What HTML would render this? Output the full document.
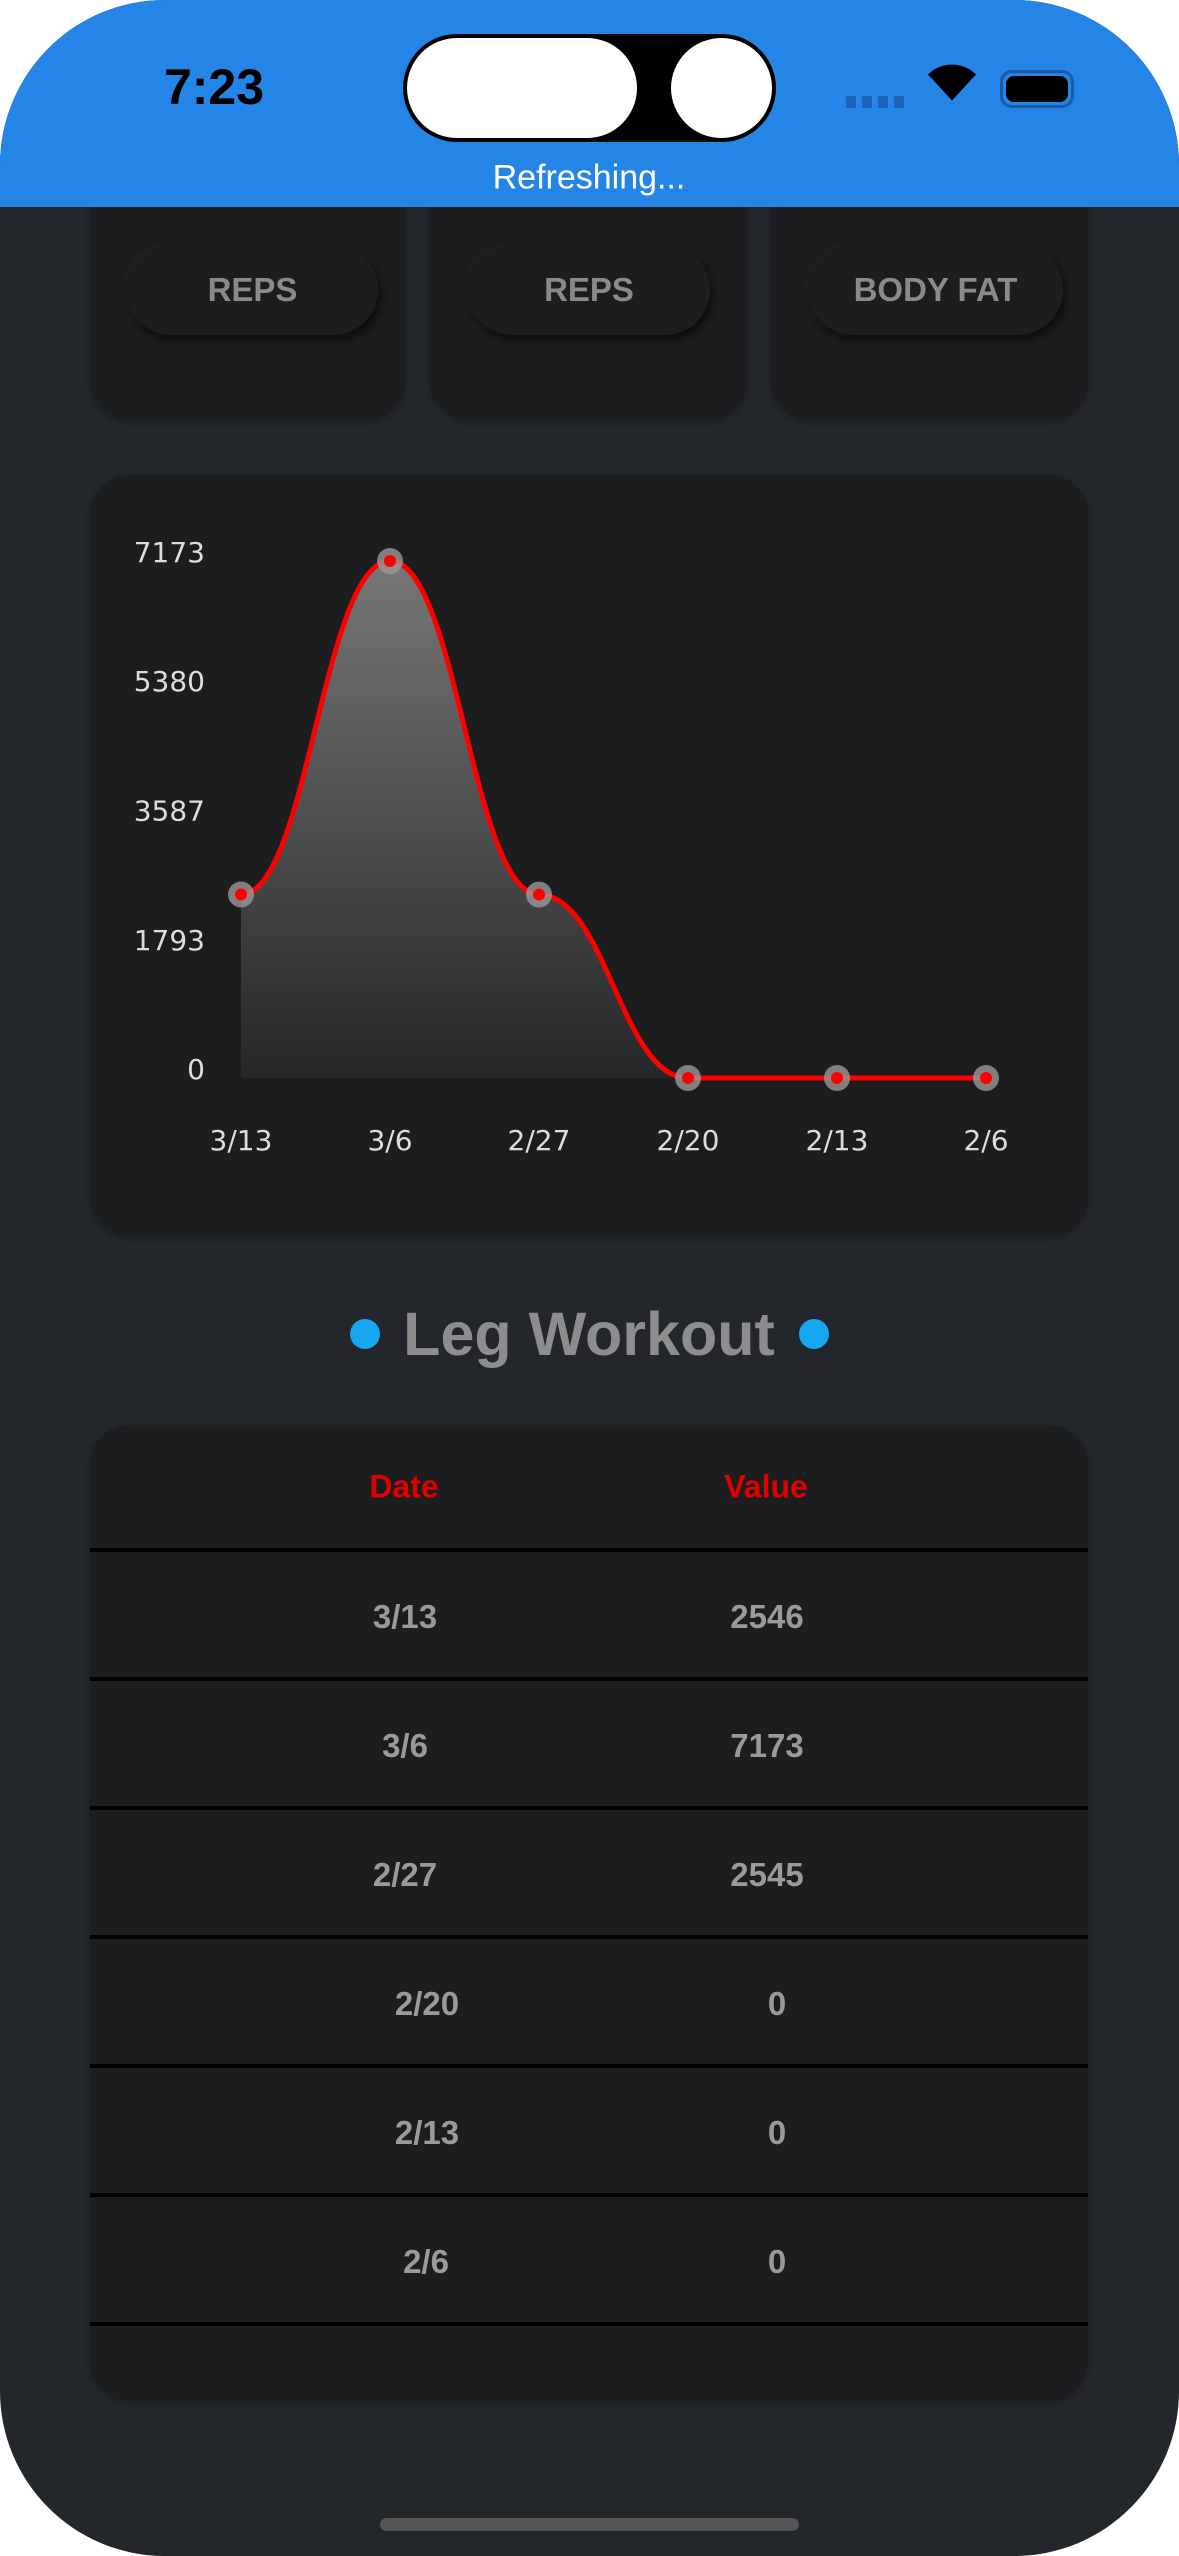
<!DOCTYPE html>
<html><head><meta charset="utf-8"><style>
*{margin:0;padding:0;box-sizing:border-box}
body{width:1179px;height:2556px;background:#fff;font-family:"Liberation Sans",sans-serif;overflow:hidden}
#phone{position:absolute;left:0;top:0;width:1179px;height:2556px;background:#23262b;border-radius:165px;overflow:hidden}
#hdr{position:absolute;left:0;top:0;width:1179px;height:207px;background:#2585e6;z-index:5}
.card{position:absolute;background:#1c1d1f;border-radius:40px;box-shadow:0 2px 6px rgba(0,0,0,.3)}
.btn{position:absolute;background:#1c1d1f;border-radius:45px;box-shadow:3px 5px 10px rgba(0,0,0,.6),-2px -2px 6px rgba(60,60,60,.25);color:#8a8a8a;font-size:33px;font-weight:bold;display:flex;align-items:center;justify-content:center}
.t{position:absolute;transform:translate(-50%,-50%);white-space:nowrap}
.line{position:absolute;left:90px;width:998px;height:4px;background:#000}
</style></head><body>
<div id="phone">
<div id="hdr">
  <div class="t" style="left:214px;top:87px;font-size:50px;font-weight:bold;color:#000">7:23</div>
  <div style="position:absolute;left:403px;top:34px;width:373px;height:108px;background:#000;border-radius:54px">
    <div style="position:absolute;left:4px;top:4px;width:230px;height:100px;background:#fff;border-radius:50px"></div>
    <div style="position:absolute;left:268px;top:4px;width:101px;height:100px;background:#fff;border-radius:50%"></div>
  </div>
  <div style="position:absolute;left:846px;top:96px;width:58px;height:12px;background:repeating-linear-gradient(90deg,#1b64b5 0 10px,transparent 10px 16px)"></div>
  <div class="t" style="left:952px;top:88px;font-size:44px;color:#000">
    <svg width="52" height="40" viewBox="0 0 52 40"><path d="M26 38 L2 12 A34 34 0 0 1 50 12 Z" fill="#000"/></svg></div>
  <div style="position:absolute;left:1000px;top:70px;width:74px;height:38px;border:3px solid #1b5aa5;border-radius:12px;padding:3px"><div style="width:100%;height:100%;background:#000;border-radius:8px"></div></div>
  <div class="t" style="left:589px;top:178px;font-size:34px;color:#fff">Refreshing...</div>
</div>
<div class="card" style="left:90px;top:170px;width:315px;height:250px"></div>
<div class="card" style="left:430px;top:170px;width:317px;height:250px"></div>
<div class="card" style="left:771px;top:170px;width:317px;height:250px"></div>
<div class="btn" style="left:127px;top:245px;width:251px;height:90px">REPS</div>
<div class="btn" style="left:468px;top:245px;width:242px;height:90px">REPS</div>
<div class="btn" style="left:808px;top:245px;width:255px;height:90px">BODY FAT</div>

<div class="card" style="left:90px;top:475px;width:998px;height:761px">
<svg id="chart" width="998" height="761" style="position:absolute;left:0;top:0">
<defs><linearGradient id="g" x1="0" y1="0" x2="0" y2="1"><stop offset="0" stop-color="#777"/><stop offset="1" stop-color="#252628"/></linearGradient></defs>
</svg></div>

<div class="t" style="left:589px;top:1334px;font-size:61px;font-weight:bold;color:#8d8d8d">Leg Workout</div>
<div style="position:absolute;left:350px;top:1319px;width:30px;height:30px;border-radius:50%;background:#17a6f0"></div>
<div style="position:absolute;left:799px;top:1319px;width:30px;height:30px;border-radius:50%;background:#17a6f0"></div>

<div class="card" style="left:90px;top:1425px;width:998px;height:975px"></div>
<div id="table"></div>
<div style="position:absolute;left:380px;top:2518px;width:419px;height:13px;border-radius:7px;background:#555"></div>
</div>
<script>
const categories=["3/13","3/6","2/27","2/20","2/13","2/6"];
const values=[2546,7173,2545,0,0,0];
const tickLabels=["7173","5380","3587","1793","0"];
const yMax=7173;
const svg=document.getElementById('chart');const NS='http://www.w3.org/2000/svg';
const x0=151,dx=149,yTop=86,yZero=603;
const X=i=>x0+i*dx, Y=v=>yZero-(v/yMax)*(yZero-yTop);
function mk(t,a){const e=document.createElementNS(NS,t);for(const k in a)e.setAttribute(k,a[k]);svg.appendChild(e);return e;}
tickLabels.forEach((l,i)=>{const t=mk('text',{x:115,y:Y(+l)+1,'text-anchor':'end','font-size':28,fill:'#ddd','font-family':'DejaVu Sans, sans-serif'});t.textContent=l;

});
categories.forEach((c,i)=>{const t=mk('text',{x:X(i),y:675,'text-anchor':'middle','font-size':28,fill:'#ddd','font-family':'DejaVu Sans, sans-serif'});t.textContent=c;

});
const px=categories.map((_,i)=>X(i)),py=values.map(Y),n=px.length;
let p=`M${px[0]},${py[0]}`;for(let i=0;i<n-1;i++){const h=(px[i+1]-px[i])*0.45;p+=` C${px[i]+h},${py[i]} ${px[i+1]-h},${py[i+1]} ${px[i+1]},${py[i+1]}`;}
const area=mk('path',{d:p+` L${px[n-1]},${yZero} L${px[0]},${yZero} Z`,fill:'url(#g)'});


const ln=mk('path',{d:p,fill:'none',stroke:'#ff0000','stroke-width':5});


values.forEach((v,i)=>{mk('circle',{cx:X(i),cy:Y(v),r:13,fill:'#999','fill-opacity':0.8});const c=mk('circle',{cx:X(i),cy:Y(v),r:6,fill:'#ff0000'});

});
const tb=document.getElementById('table');
function div(html,style,name){const e=document.createElement('div');e.className='t';e.style.cssText=style;e.textContent=html;


tb.appendChild(e);}
div('Date','left:404px;top:1487px;font-size:32px;font-weight:bold;color:#e10000','date-header');
div('Value','left:766px;top:1487px;font-size:32px;font-weight:bold;color:#e10000','value-header');
const dateX=[405,405,405,427,427,426],valX=[767,767,767,777,777,777];
for(let i=0;i<7;i++){const l=document.createElement('div');l.className='line';l.style.top=(1548+i*129)+'px';


tb.appendChild(l);}
categories.forEach((c,i)=>{const y=1617+i*129;
div(c,`left:${dateX[i]}px;top:${y}px;font-size:33px;font-weight:bold;color:#9a9a9a`,'row-date');
div(String(values[i]),`left:${valX[i]}px;top:${y}px;font-size:33px;font-weight:bold;color:#9a9a9a`,'row-value');});
</script>
</body></html>
